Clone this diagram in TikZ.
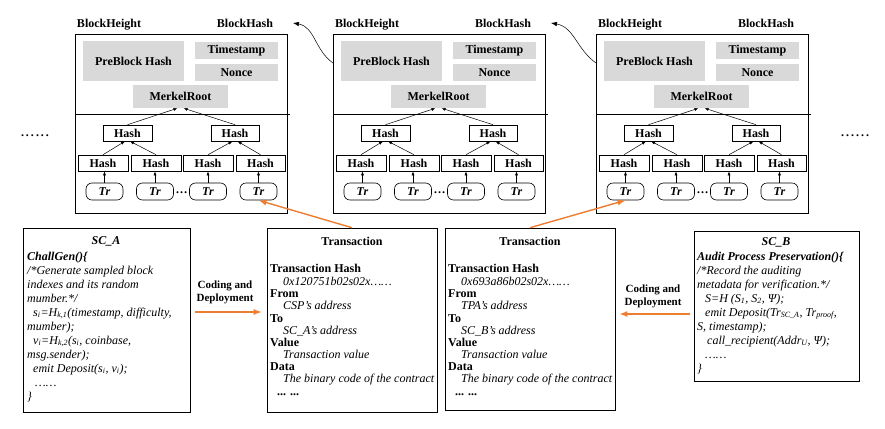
\documentclass[tikz,border=0pt]{standalone}
\usepackage{fontspec}
\setmainfont{Liberation Serif}
\usetikzlibrary{arrows.meta}
\definecolor{orng}{RGB}{237,125,49}
\tikzset{
  lbl/.style={inner sep=0pt, font=\bfseries\fontsize{12}{14}\selectfont},
  gbox/.style={fill=black!15, inner sep=0pt, font=\bfseries\fontsize{12}{14}\selectfont},
  hbox/.style={draw, line width=0.6pt, minimum height=16pt, inner sep=0pt, font=\bfseries\fontsize{12}{14}\selectfont},
  trbox/.style={draw, line width=0.6pt, rounded corners=6pt, minimum width=37pt, minimum height=17pt, inner sep=0pt, font=\bfseries\itshape\fontsize{12}{14}\selectfont},
  frame/.style={draw, line width=0.6pt, inner sep=0pt},
  blk/.style={-{Latex[length=4pt,width=3pt]}, line width=0.5pt},
  curarr/.style={-{Latex[length=6pt,width=4.5pt]}, line width=0.5pt},
  oarr/.style={-{Latex[length=8pt,width=6pt]}, line width=1.4pt, draw=orng},
  ln/.style={anchor=base west, inner sep=0pt, font=\itshape\fontsize{12}{14}\selectfont},
  lnb/.style={anchor=base west, inner sep=0pt, font=\bfseries\fontsize{12}{14}\selectfont},
  lnbi/.style={anchor=base west, inner sep=0pt, font=\bfseries\itshape\fontsize{12}{14}\selectfont},
  ttl/.style={inner sep=0pt, font=\bfseries\fontsize{12}{14}\selectfont},
  ttlbi/.style={inner sep=0pt, font=\bfseries\itshape\fontsize{12}{14}\selectfont},
  cdl/.style={inner sep=0pt, align=center, font=\bfseries\fontsize{11}{13}\selectfont},
}
\newcommand\myblock[2]{%
\begin{scope}[shift={(#1,0)}]
 \node[frame, minimum width=212pt, minimum height=179pt] (blk#2) at (181,123.5) {};
 \draw[line width=0.6pt] (75,114) -- (290,114);
 \node[lbl, anchor=base] (bht#2) at (109,28) {BlockHeight};
 \node[lbl, anchor=base] (bhs#2) at (245,28) {BlockHash};
 \node[gbox, minimum width=101pt, minimum height=40pt] (pb#2) at (133.5,61) {PreBlock Hash};
 \node[gbox, minimum width=83pt, minimum height=17pt] (ts#2) at (236.5,50.5) {Timestamp};
 \node[gbox, minimum width=83pt, minimum height=17pt] (nc#2) at (236.5,72.5) {Nonce};
 \node[gbox, minimum width=95pt, minimum height=23pt] (mr#2) at (180.5,96.5) {MerkelRoot};
 \node[hbox, minimum width=49pt] (ha#2) at (127.5,133) {Hash};
 \node[hbox, minimum width=48pt] (hb#2) at (235,133) {Hash};
 \node[hbox, minimum width=50pt] (hc#2) at (103,163) {Hash};
 \node[hbox, minimum width=50pt] (hd#2) at (156,163) {Hash};
 \node[hbox, minimum width=50pt] (he#2) at (208,163) {Hash};
 \node[hbox, minimum width=49pt] (hf#2) at (260.5,163) {Hash};
 \node[trbox] (ta#2) at (104.5,191.5) {Tr};
 \node[trbox] (tb#2) at (155,191.5) {Tr};
 \node[trbox] (tc#2) at (208,191.5) {Tr};
 \node[trbox] (td#2) at (258.5,191.5) {Tr};
 \node[lbl] (dt#2) at (181.5,193) {…};
 \draw[blk] (hc#2.north) -- ([xshift=-2.5pt]ha#2.south);
 \draw[blk] (hd#2.north) -- ([xshift=2.5pt]ha#2.south);
 \draw[blk] (he#2.north) -- ([xshift=-2.5pt]hb#2.south);
 \draw[blk] (hf#2.north) -- ([xshift=2.5pt]hb#2.south);
 \draw[blk] (ha#2.north) -- ([xshift=-3pt]mr#2.south);
 \draw[blk] (hb#2.north) -- ([xshift=3pt]mr#2.south);
 \draw[blk] (ta#2.north) -- (ta#2.north |- hc#2.south);
 \draw[blk] (tb#2.north) -- (tb#2.north |- hd#2.south);
 \draw[blk] (tc#2.north) -- (tc#2.north |- he#2.south);
 \draw[blk] (td#2.north) -- (td#2.north |- hf#2.south);
 \coordinate (in#2) at (75,63);
 \coordinate (out#2) at (293,23);
\end{scope}}
\begin{document}
\begin{tikzpicture}[x=1pt,y=-1pt]
\useasboundingbox (0,0) rectangle (885,428);
\myblock{0}{1}
\myblock{258}{2}
\myblock{521}{3}
\draw[curarr] (in2) to[out=145,in=-10] (out1);
\draw[curarr] (in3) to[out=145,in=-10] (out2);
\node[lbl] (ldots) at (35,136) {.\,.\,.\,.\,.\,.};
\node[lbl] (rdots) at (855,136) {.\,.\,.\,.\,.\,.};

% lower frames
\node[frame, minimum width=167pt, minimum height=184pt] (sca) at (106.5,320) {};
\node[frame, minimum width=170pt, minimum height=184pt] (tx1) at (352,320) {};
\node[frame, minimum width=170pt, minimum height=182pt] (tx2) at (530,319) {};
\node[frame, minimum width=165pt, minimum height=150pt] (scb) at (776.5,306) {};

% SC_A
\node[ttlbi] (saT) at (106,241) {SC\_A};
\node[lnbi] (sa1) at (27,260) {ChallGen()\{};
\node[ln] (sa2) at (27,274) {/*Generate sampled block};
\node[ln] (sa3) at (27,288) {indexes and its random};
\node[ln] (sa4) at (27,302) {mumber.*/};
\node[ln] (sa5) at (33,316) {s\textsubscript{i}=H\textsubscript{k,1}(timestamp, difficulty,};
\node[ln] (sa6) at (27,330) {mumber);};
\node[ln] (sa7) at (33,344) {v\textsubscript{i}=H\textsubscript{k,2}(s\textsubscript{i}, coinbase,};
\node[ln] (sa8) at (27,358) {msg.sender);};
\node[ln] (sa9) at (33,372) {emit Deposit(s\textsubscript{i}, v\textsubscript{i});};
\node[ln] (sa10) at (35,386) {……};
\node[ln] (sa11) at (27,400) {\}};

% Transaction 1
\node[ttl] (xaT) at (352,241) {Transaction};
\node[lnb] (xa1) at (270,272) {Transaction Hash};
\node[ln] (xa2) at (283,285) {0x120751b02s02x……};
\node[lnb] (xa3) at (270,297) {From};
\node[ln] (xa4) at (283,309) {CSP’s address};
\node[lnb] (xa5) at (270,322) {To};
\node[ln] (xa6) at (283,334) {SC\_A’s address};
\node[lnb] (xa7) at (270,346) {Value};
\node[ln] (xa8) at (283,358) {Transaction value};
\node[lnb] (xa9) at (270,370) {Data};
\node[ln] (xa10) at (283,382) {The binary code of the contract};
\node[lnb] (xa11) at (277,395) {... ...};

% Transaction 2
\node[ttl] (xbT) at (530,241) {Transaction};
\node[lnb] (xb1) at (448,272) {Transaction Hash};
\node[ln] (xb2) at (461,285) {0x693a86b02s02x……};
\node[lnb] (xb3) at (448,297) {From};
\node[ln] (xb4) at (461,309) {TPA’s address};
\node[lnb] (xb5) at (448,322) {To};
\node[ln] (xb6) at (461,334) {SC\_B’s address};
\node[lnb] (xb7) at (448,346) {Value};
\node[ln] (xb8) at (461,358) {Transaction value};
\node[lnb] (xb9) at (448,370) {Data};
\node[ln] (xb10) at (461,382) {The binary code of the contract};
\node[lnb] (xb11) at (455,395) {... ...};

% SC_B
\node[ttlbi] (sbT) at (776,242) {SC\_B};
\node[lnbi] (sb1) at (697,260) {Audit Process Preservation()\{};
\node[ln] (sb2) at (697,274) {/*Record the auditing};
\node[ln] (sb3) at (697,288) {metadata for verification.*/};
\node[ln] (sb4) at (705,302) {S=H (S\textsubscript{1}, S\textsubscript{2}, Ψ);};
\node[ln] (sb5) at (705,316) {emit Deposit(Tr\textsubscript{SC\_A}, Tr\textsubscript{proof},};
\node[ln] (sb6) at (697,330) {S, timestamp);};
\node[ln] (sb7) at (707,344) {call\_recipient(Addr\textsubscript{U}, Ψ);};
\node[ln] (sb8) at (705,358) {……};
\node[ln] (sb9) at (697,372) {\}};

% coding labels
\node[cdl] (cd1) at (225,292.5) {Coding and\\Deployment};
\node[cdl] (cd2) at (653,296) {Coding and\\Deployment};

% orange arrows
\draw[oarr, shorten <=5pt, shorten >=5pt] ([yshift=8pt]sca.east) -- ([yshift=8pt]sca.east -| tx1.west);
\draw[oarr, shorten <=4pt, shorten >=4pt] ([yshift=-8pt]scb.west) -- ([yshift=-8pt]scb.west -| tx2.east);
\draw[oarr] (tx1.north) -- (td1.south);
\draw[oarr] (tx2.north) -- (ta3.south);
\end{tikzpicture}
\end{document}
